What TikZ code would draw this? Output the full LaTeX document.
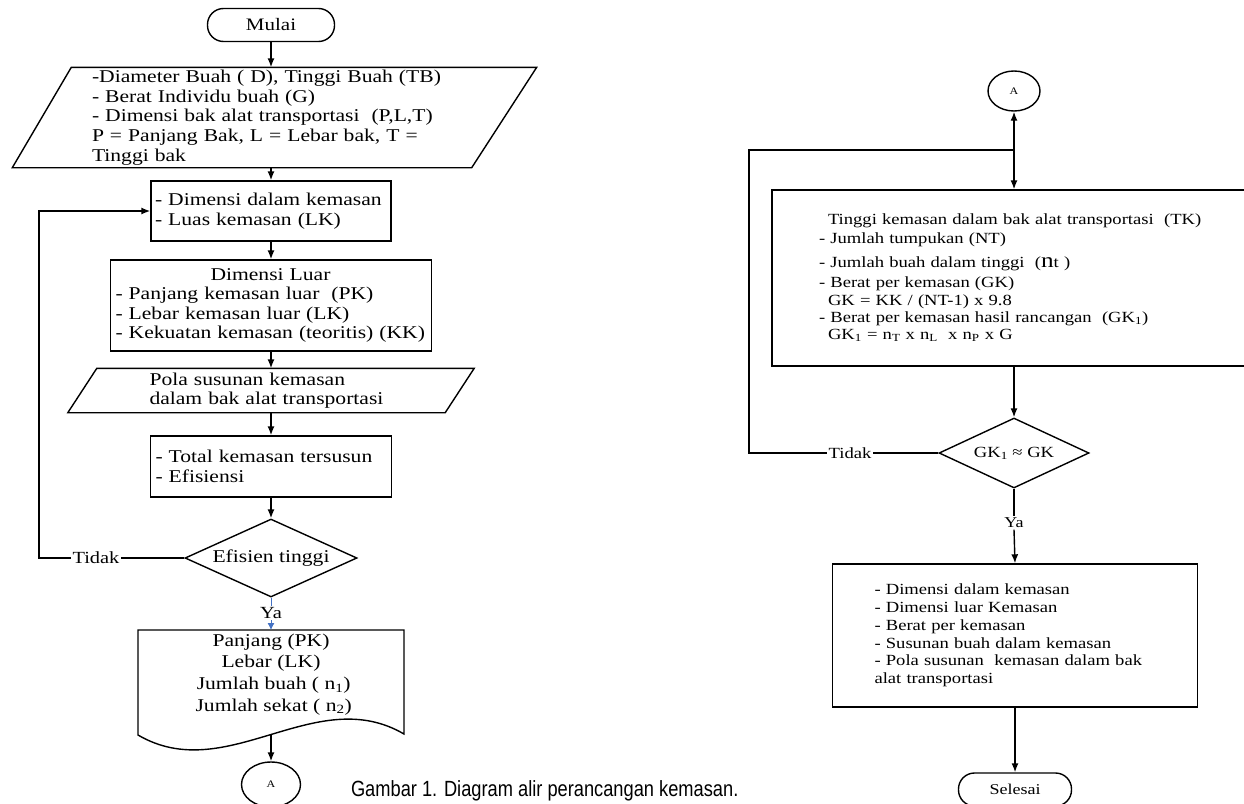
\documentclass[tikz,border=0pt]{standalone}
\usepackage{fontspec}
\setmainfont{Liberation Serif}[FakeStretch=1.2]
\newfontfamily\capfont{Liberation Sans}[FakeStretch=0.83]
\usetikzlibrary{shapes.geometric,arrows.meta,positioning}
\definecolor{yablue}{RGB}{68,114,196}
\newcommand\setfs[2]{\fontsize{#1}{#2}\selectfont}

\begin{document}
\begin{tikzpicture}[x=1pt, y=-1pt,
    line width=1.4pt,
    arr/.style={-{Latex[length=9pt,width=7pt]}},
    terminal/.style={draw, rounded corners=16pt, inner sep=0pt},
    konektor/.style={draw, ellipse, inner sep=0pt, font=\setfs{10}{12}},
    proses/.style={draw, rectangle, align=left, inner ysep=0pt},
    teks/.style={rectangle, align=left, inner ysep=0pt},
    putusan/.style={draw, diamond, inner sep=0pt, aspect=2.2},
    kiri/.style={font=\setfs{18}{19.6}},
    kanan/.style={font=\setfs{15.5}{17}},
    jawab/.style={inner sep=1pt, fill=white}
]
\useasboundingbox (0,0) rectangle (1244,803);

% kolom kiri
\node[terminal, kiri, minimum width=127pt, minimum height=33pt,
    font=\setfs{17.5}{20}] (mulai) at (271,25) {Mulai};
\node[teks, kiri,
    inner xsep=79pt,
    text width=358pt,
    minimum height=99pt
] (masukan) at (271,117.5) {-Diameter Buah ( D), Tinggi Buah (TB)\\
- Berat Individu buah (G)\\
- Dimensi bak alat transportasi~ (P,L,T)\\
P = Panjang Bak, L = Lebar bak, T =\\
Tinggi bak};
\draw (masukan.south west) -- ([xshift=-58pt]masukan.south east)
    -- ([xshift=7pt]masukan.north east) -- ([xshift=59pt]masukan.north west) -- cycle;
\node[proses, kiri,
    inner xsep=4pt,
    text width=232pt,
    minimum height=60pt
] (dalam) at (271,211) {- Dimensi dalam kemasan\\- Luas kemasan (LK)};
\node[proses, kiri,
    inner xsep=5pt,
    text width=311pt,
    minimum height=91pt
] (luar) at (271,305.5) {\hspace*{95pt}Dimensi Luar\\
- Panjang kemasan luar~ (PK)\\
- Lebar kemasan luar (LK)\\
- Kekuatan kemasan (teoritis) (KK)};
\node[teks, kiri,
    inner xsep=81pt,
    text width=243pt,
    minimum height=43pt
] (pola) at (271,390.5) {Pola susunan kemasan\\dalam bak alat transportasi};
\draw (pola.south west) -- ([xshift=-29pt]pola.south east)
    -- (pola.north east) -- ([xshift=29pt]pola.north west) -- cycle;
\node[proses, kiri,
    inner xsep=5pt,
    text width=231pt,
    minimum height=61pt
] (total) at (271,466.5) {- Total kemasan tersusun\\- Efisiensi};
\node[putusan, kiri, minimum width=172pt, minimum height=78pt] (efisien) at (271,558) {Efisien tinggi};
\node[jawab, font=\setfs{17}{19}] (ya1) at (271,613) {Ya};
\node[teks, align=center, font=\setfs{18}{21.7}] (dok) at (271,674.5) {Panjang (PK)\\
Lebar (LK)\\
~Jumlah buah ( n\textsubscript{1})\\
~Jumlah sekat ( n\textsubscript{2})};
\coordinate (doktop) at (271,630);
\coordinate (dokbot) at (271,735);
\draw (138,630) -- (404,630) -- (404,734)
    .. controls (315,682) and (227,787) .. (138,735) -- cycle;
\node[konektor, minimum width=59pt, minimum height=45pt] (A1) at (271,784.5) {A};
\node[jawab, font=\setfs{17}{19}] (tidak1) at (96,558) {Tidak};
\coordinate (belok1) at (39,211);

\foreach \a/\b in {mulai/masukan, masukan/dalam, dalam/luar, luar/pola, pola/total, total/efisien}{
    \draw[arr] (\a.south) -- (\b.north);
}
\draw[yablue, line width=0.8pt] (efisien.south) -- (ya1.north);
\draw[yablue, line width=0.8pt, -{Latex[length=7pt,width=7pt]}] (ya1.south) -- (doktop);
\draw[arr] (dokbot) -- (A1.north);
\draw (efisien.west) -- (tidak1.east);
\draw[arr] (tidak1.west) -| (belok1) -- (dalam.west);

% kolom kanan
\node[konektor, minimum width=52pt, minimum height=40pt] (A2) at (1014,91) {A};
\coordinate (simpang) at (1014,150);
\node[proses, kanan,
    inner xsep=47pt,
    text width=390pt,
    minimum height=176pt
] (tinggi) at (1014,278) {\hspace*{9pt}Tinggi kemasan dalam bak alat transportasi~ (TK)\\[2pt]
- Jumlah tumpukan (NT)\\[7pt]
- Jumlah buah dalam tinggi~ ({\setfs{21}{17}n}t )\\[3pt]
- Berat per kemasan (GK)\\[1pt]
\hspace*{9pt}GK = KK / (NT-1) x 9.8\\
- Berat per kemasan hasil rancangan~ (GK\textsubscript{1})\\
\hspace*{9pt}GK\textsubscript{1} = n\textsubscript{T} x n\textsubscript{L}~ x n\textsubscript{P} x G};
\node[putusan, kanan, minimum width=150pt, minimum height=70pt] (gk) at (1014,453) {GK\textsubscript{1} ≈ GK};
\node[jawab, font=\setfs{15.5}{17}] (tidak2) at (850,453) {Tidak};
\node[jawab, font=\setfs{15}{17}] (ya2) at (1014,523) {Ya};
\node[proses, kanan,
    font=\setfs{15.5}{17.8},
    inner xsep=42pt,
    text width=281pt,
    minimum height=143pt
] (hasil) at (1015,635.5) {- Dimensi dalam kemasan\\
- Dimensi luar Kemasan\\
- Berat per kemasan\\
- Susunan buah dalam kemasan\\
- Pola susunan~ kemasan dalam bak\\
alat transportasi};
\node[terminal, minimum width=113pt, minimum height=33pt,
    font=\setfs{15}{17}] (selesai) at (1015,789.5) {Selesai};
\coordinate (belok2) at (749,150);

\draw[arr] (simpang) -- (A2.south);
\draw[arr] (simpang) -- (tinggi.north);
\draw[arr] (tinggi.south) -- (gk.north);
\draw (gk.south) -- (ya2.north);
\draw[arr] (ya2.south) -- (hasil.north);
\draw[arr] (hasil.south) -- (selesai.north);
\draw (gk.west) -- (tidak2.east);
\draw (tidak2.west) -| (belok2) -- (simpang);

\node[anchor=base west, font=\capfont\setfs{22}{24}] (judul) at (347,796) {Gambar 1. Diagram alir perancangan kemasan.};
\end{tikzpicture}
\end{document}
